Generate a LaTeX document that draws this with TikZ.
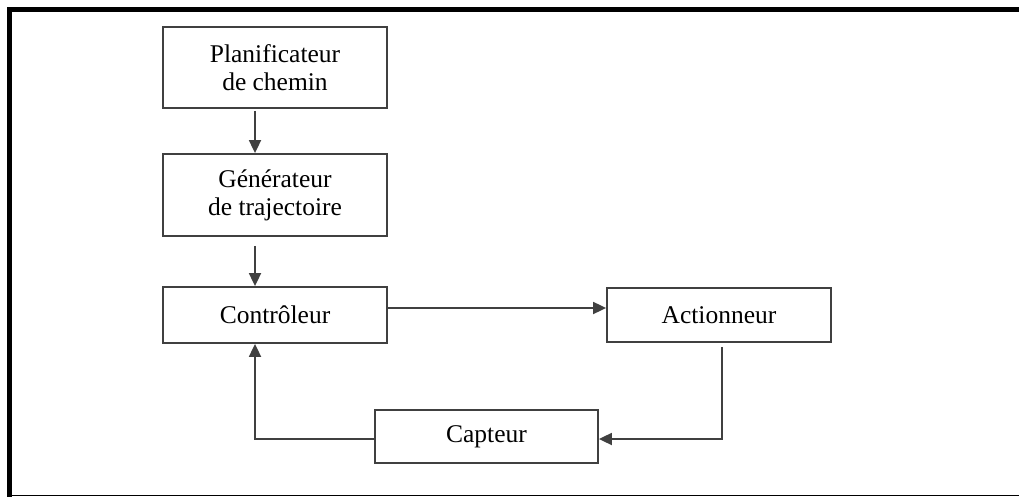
\documentclass[tikz,border=0pt]{standalone}
\usepackage{fontspec}
\setmainfont{Liberation Serif}
\usetikzlibrary{arrows.meta}

\begin{document}
\begin{tikzpicture}[x=1pt,y=-1pt,
    bloc/.style={draw=black!75,line width=1.8pt,minimum width=224pt,inner sep=0pt,
        align=center,font=\fontsize{25.5}{28}\selectfont},
    fleche/.style={draw=black!75,line width=1.8pt,-{Triangle[length=13pt,width=12pt]}}]
    \useasboundingbox (0,0) rectangle (1019,497);

    % Cadre
    \draw[line width=5pt] (9.5,497) -- (9.5,9.5) -- (1019,9.5);
    \draw[line width=1.5pt] (12,495.5) -- (1019,495.5);

    % Blocs
    \node[bloc,minimum height=81pt] (plan) at (275,67.5) {Planificateur\\de chemin};
    \node[bloc,minimum height=82pt] (gen) at (275,195) {G\'en\'erateur\\de trajectoire};
    \node[bloc,minimum height=56pt] (ctrl) at (275,315) {Contr\^oleur};
    \node[bloc,minimum height=54pt] (act) at (719,315) {Actionneur};
    \node[bloc,minimum height=53pt,minimum width=223pt] (capt) at (486.5,436.5) {Capteur};

    % Liaisons
    \draw[fleche] ([xshift=-20pt,yshift=-2pt]plan.south) -- ([xshift=-20pt]gen.north);
    \draw[fleche] ([xshift=-20pt,yshift=-9pt]gen.south) -- ([xshift=-20pt]ctrl.north);
    \draw[fleche] ([yshift=7pt]ctrl.east) -- ([yshift=7pt]act.west);

    % Boucle de retour
    \draw[fleche] ([xshift=3pt,yshift=-4pt]act.south) |- ([yshift=-2.5pt]capt.east);
    \draw[fleche] ([yshift=-2.5pt]capt.west) -| ([xshift=-20pt]ctrl.south);

\end{tikzpicture}
\end{document}
